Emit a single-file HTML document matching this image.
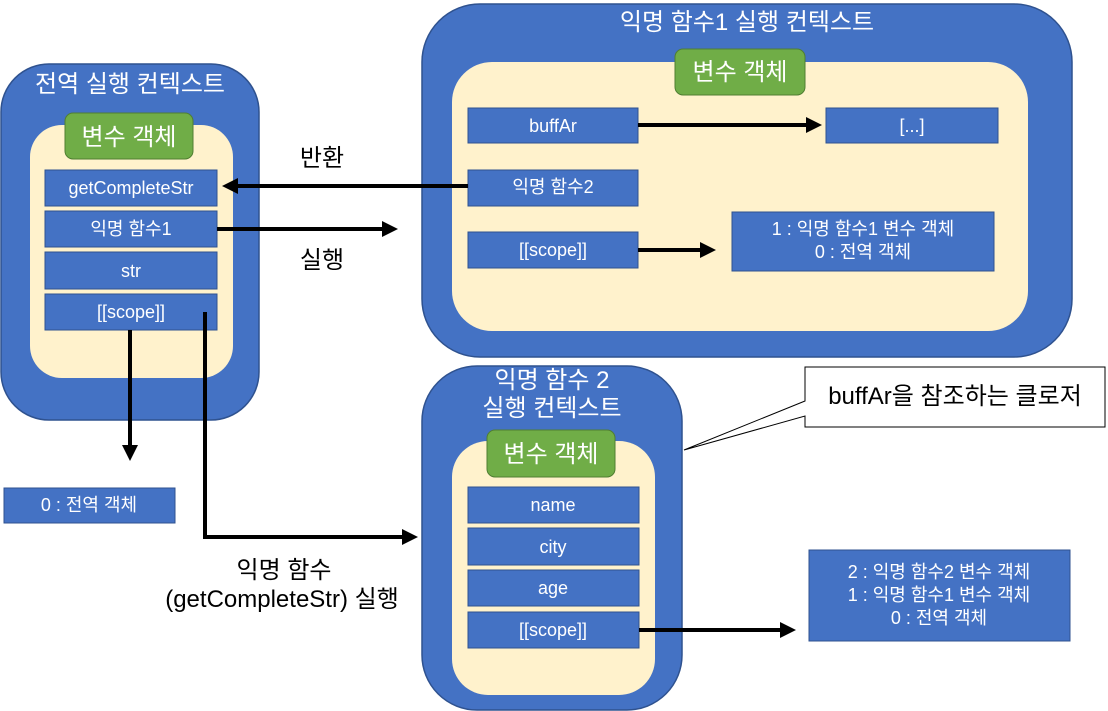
<!DOCTYPE html>
<html><head><meta charset="utf-8"><style>
html,body{margin:0;padding:0;background:#fff;}
svg{display:block;font-family:"Liberation Sans","Noto Sans CJK KR",sans-serif;}
.w{fill:#fff;text-anchor:middle;}
.b{fill:#000;text-anchor:middle;}
.r{fill:#4472c4;stroke:#2f528f;stroke-width:1;}
.o{fill:#4472c4;stroke:#2f528f;stroke-width:1.5;}
.c{fill:#fff2cc;}
.g{fill:#70ad47;stroke:#507e32;stroke-width:1;}
.l{stroke:#000;stroke-width:4;fill:none;}
</style></head><body>
<svg width="1108" height="711" viewBox="0 0 1108 711">
<defs><marker id="a" markerWidth="4" markerHeight="4" refX="3" refY="2" orient="auto" markerUnits="strokeWidth"><path d="M0,0 L4,2 L0,4 z" fill="#000"/></marker></defs>

<!-- global -->
<rect class="o" x="1" y="64" width="258" height="356" rx="48"/>
<text class="w" x="130" y="92" font-size="24">전역 실행 컨텍스트</text>
<rect class="c" x="30" y="125" width="203" height="253" rx="32"/>
<rect class="g" x="65" y="113" width="128" height="46" rx="8"/>
<text class="w" x="129" y="145" font-size="24">변수 객체</text>
<rect class="r" x="45" y="170" width="172" height="36"/><text class="w" x="131" y="194" font-size="18">getCompleteStr</text>
<rect class="r" x="45" y="211" width="172" height="36"/><text class="w" x="131" y="235" font-size="18">익명 함수1</text>
<rect class="r" x="45" y="252" width="172" height="37"/><text class="w" x="131" y="277" font-size="18">str</text>
<rect class="r" x="45" y="294" width="172" height="36"/><text class="w" x="131" y="318" font-size="18">[[scope]]</text>

<rect class="r" x="4" y="488" width="171" height="35"/><text class="w" x="89" y="511" font-size="18">0 : 전역 객체</text>

<!-- anon1 -->
<rect class="o" x="422" y="4" width="650" height="353" rx="58"/>
<text class="w" x="747" y="30" font-size="24">익명 함수1 실행 컨텍스트</text>
<rect class="c" x="452" y="62" width="576" height="269" rx="40"/>
<rect class="g" x="675" y="49" width="130" height="46" rx="8"/>
<text class="w" x="740" y="80" font-size="24">변수 객체</text>
<rect class="r" x="468" y="108" width="170" height="35"/><text class="w" x="553" y="132" font-size="18">buffAr</text>
<rect class="r" x="468" y="170" width="170" height="36"/><text class="w" x="553" y="193" font-size="18">익명 함수2</text>
<rect class="r" x="468" y="232" width="170" height="36"/><text class="w" x="553" y="256" font-size="18">[[scope]]</text>
<rect class="r" x="826" y="108" width="172" height="35"/><text class="w" x="912" y="132" font-size="18">[...]</text>
<rect class="r" x="732" y="212" width="262" height="59"/>
<text class="w" x="863" y="235" font-size="18">1 : 익명 함수1 변수 객체</text>
<text class="w" x="863" y="258" font-size="18">0 : 전역 객체</text>

<!-- anon2 -->
<rect class="o" x="422" y="366" width="260" height="344" rx="55"/>
<text class="w" x="552" y="388" font-size="24">익명 함수 2</text>
<text class="w" x="552" y="416" font-size="24">실행 컨텍스트</text>
<rect class="c" x="452" y="441" width="203" height="254" rx="36"/>
<rect class="g" x="487" y="430" width="128" height="47" rx="8"/>
<text class="w" x="551" y="462" font-size="24">변수 객체</text>
<rect class="r" x="468" y="487" width="171" height="36"/><text class="w" x="553" y="511" font-size="18">name</text>
<rect class="r" x="468" y="528" width="171" height="37"/><text class="w" x="553" y="553" font-size="18">city</text>
<rect class="r" x="468" y="570" width="171" height="36"/><text class="w" x="553" y="594" font-size="18">age</text>
<rect class="r" x="468" y="612" width="171" height="36"/><text class="w" x="553" y="636" font-size="18">[[scope]]</text>

<rect class="r" x="809" y="550" width="261" height="91"/>
<text class="w" x="939" y="578" font-size="18">2 : 익명 함수2 변수 객체</text>
<text class="w" x="939" y="601" font-size="18">1 : 익명 함수1 변수 객체</text>
<text class="w" x="939" y="624" font-size="18">0 : 전역 객체</text>

<!-- callout -->
<path d="M805,367 H1105 V427 H805 V416 L684,450 L805,401 Z" fill="#fff" stroke="#000" stroke-width="1"/>
<text class="b" x="955" y="404" font-size="24">buffAr을 참조하는 클로저</text>

<!-- arrows -->
<line class="l" x1="468" y1="186" x2="226" y2="186" marker-end="url(#a)"/>
<line class="l" x1="217" y1="229" x2="394" y2="229" marker-end="url(#a)"/>
<line class="l" x1="638" y1="125" x2="818" y2="125" marker-end="url(#a)"/>
<line class="l" x1="638" y1="250" x2="712" y2="250" marker-end="url(#a)"/>
<line class="l" x1="639" y1="630" x2="792" y2="630" marker-end="url(#a)"/>
<line class="l" x1="130" y1="330" x2="130" y2="457" marker-end="url(#a)"/>
<polyline class="l" points="205,312 205,537 414,537" marker-end="url(#a)"/>

<text class="b" x="322" y="166" font-size="24">반환</text>
<text class="b" x="322" y="268" font-size="24">실행</text>
<text class="b" x="284" y="578" font-size="24">익명 함수</text>
<text class="b" x="282" y="607" font-size="24">(getCompleteStr) 실행</text>
</svg>
</body></html>
